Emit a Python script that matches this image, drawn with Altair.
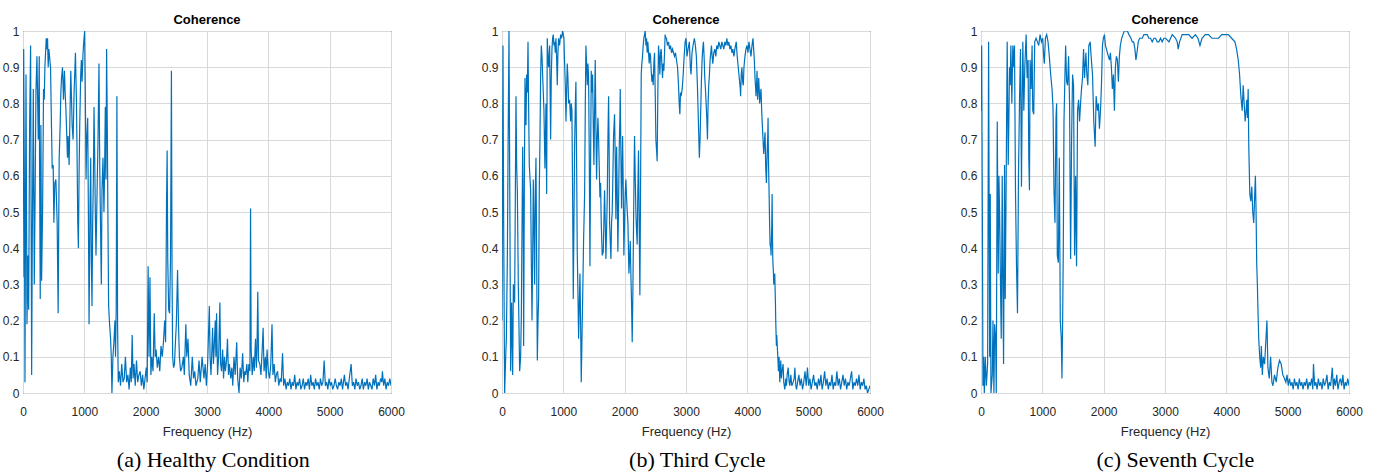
import altair as alt
import pandas as pd

# ---- data (frequency Hz, coherence) ----
healthy = [
    (0, 0.32), (11, 0.95), (22, 0.6), (32, 0.03), (49, 0.88), (65, 0.19), (81, 0.38), (92, 0.23),
    (108, 0.74), (124, 0.96), (141, 0.05), (151, 0.41), (168, 0.84), (184, 0.3), (195, 0.5), (211, 0.83),
    (227, 0.93), (249, 0.7), (265, 0.93), (270, 0.64), (281, 0.26), (292, 0.74), (303, 0.31), (319, 0.5),
    (335, 0.84), (346, 0.81), (357, 0.9), (379, 0.98), (390, 0.95), (400, 0.98), (411, 0.9), (422, 0.95),
    (438, 0.92), (449, 0.9), (465, 0.73), (476, 0.62), (492, 0.63), (503, 0.47), (519, 0.58), (536, 0.59),
    (557, 0.47), (573, 0.22), (590, 0.65), (606, 0.74), (617, 0.83), (628, 0.87), (644, 0.9), (660, 0.81),
    (676, 0.89), (687, 0.83), (698, 0.79), (714, 0.71), (725, 0.65), (736, 0.71), (752, 0.63), (763, 0.74),
    (779, 0.89), (790, 0.82), (801, 0.74), (817, 0.7), (833, 0.83), (855, 0.94), (871, 0.81), (882, 0.65),
    (893, 0.47), (903, 0.4), (914, 0.6), (925, 0.74), (941, 0.88), (952, 0.92), (963, 0.86), (979, 0.94),
    (995, 0.98), (1006, 1.0), (1017, 0.81), (1028, 0.59), (1039, 0.7), (1055, 0.76), (1066, 0.5), (1077, 0.19),
    (1093, 0.52), (1104, 0.65), (1114, 0.37), (1125, 0.24), (1136, 0.47), (1147, 0.59), (1158, 0.79), (1169, 0.65),
    (1179, 0.5), (1190, 0.38), (1206, 0.54), (1223, 0.7), (1239, 0.91), (1250, 0.65), (1261, 0.5), (1277, 0.3),
    (1288, 0.56), (1304, 0.65), (1320, 0.5), (1331, 0.62), (1342, 0.79), (1353, 0.59), (1363, 0.95), (1374, 0.74),
    (1385, 0.47), (1396, 0.24), (1412, 0.19), (1428, 0.15), (1439, 0.1), (1450, 0.0), (1466, 0.1), (1482, 0.14),
    (1499, 0.2), (1509, 0.1), (1520, 0.24), (1531, 0.82), (1542, 0.19), (1553, 0.03),
    (1570, 0.06), (1590, 0.02), (1610, 0.08), (1630, 0.03), (1650, 0.04), (1670, 0.1), (1690, 0.03), (1710, 0.05),
    (1730, 0.01), (1750, 0.07), (1765, 0.03), (1780, 0.16), (1795, 0.04), (1810, 0.08), (1830, 0.02), (1850, 0.09),
    (1870, 0.03), (1890, 0.05), (1910, 0.06), (1930, 0.02), (1950, 0.05), (1970, 0.01), (1990, 0.04), (2010, 0.07),
    (2025, 0.03), (2040, 0.35), (2055, 0.1), (2070, 0.32), (2085, 0.05), (2100, 0.1), (2120, 0.06), (2140, 0.22),
    (2155, 0.1), (2170, 0.12), (2190, 0.07), (2210, 0.1), (2230, 0.06), (2250, 0.13), (2270, 0.1), (2290, 0.14),
    (2310, 0.2), (2325, 0.14), (2340, 0.52), (2350, 0.67), (2360, 0.37), (2375, 0.23), (2390, 0.22), (2405, 0.37),
    (2420, 0.89), (2430, 0.33), (2440, 0.1), (2455, 0.07), (2470, 0.08), (2485, 0.14), (2500, 0.19), (2520, 0.34),
    (2535, 0.19), (2550, 0.1), (2570, 0.06), (2590, 0.07), (2615, 0.1), (2630, 0.05), (2655, 0.19), (2670, 0.1),
    (2690, 0.15), (2710, 0.05), (2735, 0.02), (2760, 0.1), (2780, 0.04), (2800, 0.06), (2820, 0.02), (2850, 0.04),
    (2870, 0.09), (2890, 0.03), (2920, 0.1), (2950, 0.04), (2970, 0.08), (2990, 0.02),
    (3010, 0.08), (3038, 0.24), (3050, 0.1), (3065, 0.05), (3080, 0.12), (3091, 0.18), (3105, 0.08), (3118, 0.13),
    (3135, 0.2), (3145, 0.1), (3156, 0.22), (3165, 0.12), (3172, 0.05), (3190, 0.1), (3210, 0.25), (3222, 0.08),
    (3237, 0.06), (3255, 0.12), (3270, 0.04), (3285, 0.1), (3300, 0.06), (3318, 0.09), (3334, 0.15), (3350, 0.05),
    (3365, 0.08), (3387, 0.04), (3405, 0.07), (3420, 0.02), (3440, 0.1), (3460, 0.05), (3484, 0.14), (3500, 0.04),
    (3522, 0.0), (3540, 0.07), (3560, 0.04), (3581, 0.11), (3600, 0.03), (3615, 0.06), (3630, 0.05), (3650, 0.08),
    (3665, 0.03), (3683, 0.08), (3700, 0.06), (3710, 0.51), (3720, 0.12), (3737, 0.05), (3755, 0.1), (3770, 0.06),
    (3791, 0.15), (3805, 0.07), (3815, 0.12), (3828, 0.28), (3840, 0.09), (3861, 0.08), (3880, 0.05), (3900, 0.12),
    (3915, 0.18), (3930, 0.06), (3952, 0.1), (3965, 0.04), (3979, 0.12), (4000, 0.06), (4020, 0.04), (4040, 0.08),
    (4060, 0.19), (4075, 0.05), (4095, 0.08), (4114, 0.03), (4130, 0.05), (4151, 0.06), (4170, 0.02), (4190, 0.04),
    (4210, 0.03), (4232, 0.11), (4250, 0.02), (4270, 0.04), (4290, 0.01), (4310, 0.03), (4330, 0.02), (4350, 0.04),
    (4370, 0.01), (4390, 0.03), (4410, 0.02), (4430, 0.05), (4450, 0.01), (4470, 0.03), (4490, 0.02), (4510, 0.04),
    (4530, 0.01), (4550, 0.02), (4570, 0.04), (4590, 0.01), (4610, 0.03), (4630, 0.02), (4650, 0.04), (4670, 0.01),
    (4690, 0.05), (4710, 0.02), (4730, 0.03), (4750, 0.01), (4770, 0.04), (4790, 0.02), (4810, 0.03), (4830, 0.01),
    (4850, 0.04), (4870, 0.02), (4890, 0.03), (4910, 0.09), (4930, 0.02), (4950, 0.03), (4970, 0.01), (4990, 0.04),
    (5010, 0.02), (5030, 0.03), (5050, 0.01), (5070, 0.02), (5090, 0.04), (5110, 0.02), (5130, 0.01), (5150, 0.03),
    (5170, 0.02), (5190, 0.04), (5210, 0.01), (5240, 0.05), (5260, 0.02), (5280, 0.03), (5300, 0.01), (5320, 0.04),
    (5350, 0.08), (5370, 0.02), (5390, 0.03), (5410, 0.01), (5430, 0.04), (5450, 0.02), (5470, 0.03), (5490, 0.01),
    (5510, 0.02), (5530, 0.04), (5550, 0.01), (5570, 0.03), (5590, 0.02), (5610, 0.04), (5630, 0.01), (5650, 0.03),
    (5670, 0.02), (5690, 0.01), (5710, 0.04), (5730, 0.02), (5750, 0.05), (5770, 0.01), (5790, 0.03), (5810, 0.02),
    (5830, 0.04), (5850, 0.03), (5860, 0.06), (5880, 0.02), (5900, 0.04), (5920, 0.01), (5940, 0.03), (5960, 0.02),
    (5980, 0.04), (6000, 0.02),
]

third_cycle = [
    (0, 0.2), (16, 0.96), (27, 0.47), (43, 0.0), (60, 0.1), (71, 0.15), (87, 0.37), (100, 0.7),
    (114, 1.0), (130, 0.45), (141, 0.06), (157, 0.25), (174, 0.05), (185, 0.3), (206, 0.25), (228, 0.82),
    (239, 0.63), (250, 0.56), (266, 0.3), (288, 0.06), (304, 0.1), (315, 0.21), (337, 0.68), (347, 0.47),
    (353, 0.13), (364, 0.56), (375, 0.87), (391, 0.74), (402, 0.88), (413, 0.83), (424, 0.97), (434, 0.79),
    (445, 0.63), (467, 0.56), (478, 0.37), (489, 0.2), (500, 0.37), (510, 0.59), (521, 0.47), (532, 0.3),
    (543, 0.56), (554, 0.65), (565, 0.37), (576, 0.09), (586, 0.19), (597, 0.26), (608, 0.56), (619, 0.7),
    (630, 0.88), (641, 0.96), (652, 0.93), (662, 0.88), (673, 0.83), (684, 0.78), (700, 0.62), (717, 0.8),
    (728, 0.55), (738, 0.98), (749, 0.93), (760, 0.9), (777, 0.96), (793, 0.7), (804, 0.88), (815, 0.95),
    (825, 0.98), (836, 0.99), (847, 0.96), (858, 0.97), (869, 0.94), (880, 0.98), (890, 0.93), (901, 0.85),
    (912, 0.94), (923, 0.98), (939, 0.96), (956, 0.99), (972, 0.98), (988, 1.0), (999, 0.99), (1010, 0.98),
    (1021, 0.91), (1032, 0.85), (1043, 0.75), (1053, 0.83), (1064, 0.91), (1075, 0.87), (1086, 0.8), (1102, 0.81),
    (1119, 0.75), (1129, 0.8), (1140, 0.78), (1151, 0.56), (1162, 0.26), (1173, 0.47), (1184, 0.68), (1195, 0.79),
    (1205, 0.86), (1216, 0.65), (1227, 0.39), (1238, 0.28), (1249, 0.15), (1260, 0.24), (1271, 0.33), (1282, 0.19),
    (1292, 0.03), (1303, 0.14), (1314, 0.25), (1330, 0.42), (1347, 0.55), (1358, 0.79), (1368, 0.96), (1379, 0.91),
    (1390, 0.85), (1401, 0.91), (1412, 0.87), (1423, 0.65), (1434, 0.35), (1445, 0.65), (1455, 0.89), (1466, 0.83),
    (1477, 0.88), (1488, 0.74), (1499, 0.63), (1510, 0.79), (1520, 0.92), (1531, 0.74), (1542, 0.59), (1553, 0.7),
    (1564, 0.76), (1575, 0.7), (1586, 0.62), (1597, 0.54), (1607, 0.58), (1618, 0.47), (1634, 0.38), (1651, 0.39),
    (1662, 0.48), (1672, 0.56), (1683, 0.47), (1694, 0.37), (1705, 0.45), (1716, 0.54), (1727, 0.7), (1738, 0.82),
    (1748, 0.65), (1754, 0.47), (1765, 0.42), (1776, 0.37), (1786, 0.47), (1797, 0.5), (1808, 0.6), (1819, 0.71),
    (1835, 0.77), (1846, 0.65), (1857, 0.48), (1868, 0.68), (1879, 0.56), (1889, 0.39), (1900, 0.51), (1911, 0.67),
    (1922, 0.76), (1928, 0.84), (1939, 0.65), (1949, 0.51), (1960, 0.63), (1966, 0.71), (1977, 0.56), (1987, 0.38),
    (1998, 0.47), (2009, 0.55), (2020, 0.59), (2031, 0.54), (2042, 0.5), (2053, 0.47), (2069, 0.33), (2080, 0.37),
    (2091, 0.42), (2101, 0.33), (2112, 0.25), (2123, 0.14), (2134, 0.28), (2145, 0.47), (2155, 0.63), (2161, 0.71),
    (2172, 0.6), (2183, 0.5), (2193, 0.45), (2204, 0.41), (2215, 0.56), (2226, 0.67), (2237, 0.47), (2248, 0.27),
    (2259, 0.56), (2270, 0.88), (2280, 0.91), (2291, 0.93), (2302, 0.96), (2313, 0.98), (2324, 0.99), (2335, 1.0),
    (2346, 0.96), (2357, 0.98), (2367, 0.94), (2378, 0.97), (2389, 0.94), (2400, 0.91), (2411, 0.94), (2422, 0.93),
    (2433, 0.89), (2444, 0.86), (2454, 0.88), (2465, 0.85), (2476, 0.91), (2487, 0.94), (2498, 0.83), (2509, 0.7),
    (2520, 0.67), (2530, 0.64), (2541, 0.83), (2552, 0.96), (2563, 0.93), (2574, 0.88), (2585, 0.94), (2595, 0.95),
    (2606, 0.91), (2617, 0.87), (2628, 0.91), (2639, 0.89), (2650, 0.94), (2660, 0.99), (2671, 0.98), (2682, 0.98),
    (2698, 0.96), (2715, 0.97), (2731, 0.95), (2748, 0.96), (2764, 0.94), (2780, 0.95), (2796, 0.94), (2813, 0.93),
    (2829, 0.94), (2845, 0.92), (2862, 0.9), (2878, 0.85), (2889, 0.8), (2900, 0.77), (2910, 0.83), (2921, 0.82),
    (2938, 0.84), (2954, 0.88), (2970, 0.93), (2986, 0.97),
    (3000, 0.98), (3016, 0.93), (3033, 0.95), (3055, 0.97), (3071, 0.9), (3082, 0.88), (3098, 0.94), (3115, 0.96),
    (3137, 0.98), (3153, 0.96), (3169, 0.93), (3186, 0.85), (3202, 0.75), (3218, 0.65), (3229, 0.7), (3240, 0.78),
    (3251, 0.86), (3262, 0.92), (3273, 0.95), (3284, 0.97), (3295, 0.93), (3306, 0.87), (3317, 0.84), (3328, 0.8),
    (3339, 0.76), (3350, 0.7), (3360, 0.8), (3371, 0.85), (3382, 0.88), (3393, 0.92), (3404, 0.94), (3415, 0.96),
    (3426, 0.93), (3437, 0.91), (3453, 0.94), (3470, 0.95), (3486, 0.93), (3502, 0.96), (3519, 0.95), (3535, 0.97),
    (3551, 0.96), (3568, 0.95), (3584, 0.97), (3601, 0.96), (3617, 0.95), (3633, 0.97), (3650, 0.96), (3666, 0.98),
    (3682, 0.96), (3699, 0.97), (3715, 0.95), (3732, 0.96), (3748, 0.94), (3764, 0.95), (3781, 0.93), (3797, 0.95),
    (3819, 0.97), (3835, 0.93), (3852, 0.9), (3863, 0.88), (3874, 0.86), (3885, 0.84), (3890, 0.82), (3901, 0.88),
    (3912, 0.9), (3923, 0.86), (3934, 0.85), (3945, 0.9), (3961, 0.93), (3977, 0.95), (3994, 0.96), (4010, 0.94),
    (4026, 0.97), (4043, 0.95), (4059, 0.93), (4076, 0.96), (4092, 0.98), (4103, 0.95), (4114, 0.92), (4125, 0.87),
    (4136, 0.84), (4141, 0.82), (4152, 0.86), (4158, 0.89), (4168, 0.81), (4179, 0.84), (4185, 0.87), (4196, 0.83),
    (4201, 0.8), (4212, 0.82), (4223, 0.84), (4234, 0.78), (4245, 0.74), (4256, 0.7), (4267, 0.66), (4278, 0.69),
    (4289, 0.72), (4300, 0.62), (4311, 0.58), (4322, 0.66), (4333, 0.71), (4338, 0.76), (4344, 0.65), (4355, 0.55),
    (4365, 0.45), (4371, 0.41), (4382, 0.4), (4387, 0.38), (4398, 0.46), (4404, 0.55), (4409, 0.45), (4415, 0.37),
    (4426, 0.33), (4431, 0.3), (4442, 0.32), (4447, 0.33), (4458, 0.25), (4463, 0.2), (4474, 0.13), (4480, 0.16),
    (4491, 0.12), (4502, 0.08), (4507, 0.06), (4518, 0.1), (4529, 0.03), (4540, 0.07), (4545, 0.09), (4556, 0.04),
    (4567, 0.06), (4583, 0.08), (4594, 0.03), (4611, 0.01), (4627, 0.04), (4638, 0.02), (4649, 0.05), (4665, 0.07),
    (4682, 0.03), (4693, 0.02), (4709, 0.05), (4725, 0.02), (4747, 0.03), (4764, 0.04), (4775, 0.07), (4791, 0.02),
    (4802, 0.01), (4820, 0.03), (4840, 0.05), (4860, 0.02), (4880, 0.04), (4900, 0.01), (4920, 0.03), (4940, 0.06),
    (4960, 0.02), (4980, 0.07), (5000, 0.02), (5020, 0.04), (5040, 0.01), (5060, 0.03), (5080, 0.05), (5100, 0.02),
    (5120, 0.03), (5140, 0.01), (5160, 0.04), (5180, 0.02), (5200, 0.05), (5220, 0.01), (5240, 0.03), (5260, 0.06),
    (5280, 0.02), (5300, 0.04), (5320, 0.01), (5340, 0.03), (5360, 0.02), (5380, 0.05), (5400, 0.01), (5420, 0.03),
    (5440, 0.02), (5460, 0.06), (5480, 0.02), (5500, 0.04), (5520, 0.01), (5540, 0.03), (5560, 0.05), (5580, 0.02),
    (5600, 0.04), (5620, 0.01), (5640, 0.03), (5660, 0.02), (5680, 0.04), (5700, 0.06), (5720, 0.01), (5740, 0.03),
    (5760, 0.02), (5780, 0.04), (5800, 0.02), (5820, 0.05), (5840, 0.01), (5860, 0.03), (5880, 0.02), (5900, 0.04),
    (5920, 0.01), (5940, 0.02), (5960, 0.0), (5980, 0.01), (6000, 0.02),
]

seventh_cycle = [
    (0, 0.78), (11, 0.96), (22, 0.5), (32, 0.02), (43, 0.1), (54, 0.0), (70, 0.1), (87, 0.02),
    (108, 0.08), (124, 0.97), (135, 0.4), (141, 0.1), (151, 0.55), (162, 0.0), (184, 0.05), (195, 0.2),
    (211, 0.0), (222, 0.19), (238, 0.15), (249, 0.0), (265, 0.75), (281, 0.33), (292, 0.6), (303, 0.5),
    (314, 0.35), (330, 0.15), (346, 0.6), (357, 0.3), (368, 0.08), (384, 0.63), (395, 0.26), (411, 0.6),
    (427, 0.97), (444, 0.63), (454, 0.75), (465, 0.9), (476, 0.85), (487, 0.96), (503, 0.8), (519, 0.96),
    (536, 0.9), (546, 0.96), (563, 0.55), (579, 0.35), (595, 0.22), (611, 0.6), (628, 0.81), (644, 0.95),
    (660, 0.57), (671, 0.8), (682, 0.97), (698, 0.78), (714, 0.9), (736, 0.99), (752, 0.87), (768, 0.92),
    (779, 0.65), (790, 0.56), (801, 0.92), (817, 0.84), (833, 0.96), (844, 0.78), (860, 0.77), (876, 0.97),
    (898, 0.98), (920, 0.97), (941, 0.96), (963, 0.99), (985, 0.97), (1006, 0.98), (1022, 0.93), (1033, 0.91),
    (1050, 0.98), (1071, 0.99), (1093, 0.97), (1114, 0.93), (1136, 0.88), (1158, 0.84), (1174, 0.79), (1190, 0.56),
    (1206, 0.47), (1223, 0.76), (1233, 0.8), (1244, 0.38), (1261, 0.36), (1277, 0.65), (1293, 0.2), (1309, 0.15),
    (1320, 0.04), (1331, 0.2), (1342, 0.4), (1353, 0.75), (1369, 0.88), (1380, 0.96), (1396, 0.86), (1412, 0.85),
    (1428, 0.93), (1444, 0.8), (1461, 0.37), (1477, 0.7), (1493, 0.88), (1509, 0.85), (1526, 0.38), (1542, 0.6),
    (1558, 0.35), (1574, 0.78), (1591, 0.81), (1607, 0.75), (1623, 0.8), (1639, 0.84), (1655, 0.87), (1672, 0.95),
    (1688, 0.87), (1710, 0.94), (1726, 0.88), (1742, 0.85), (1758, 0.96), (1780, 0.97), (1796, 0.93), (1818, 0.88),
    (1839, 0.75), (1861, 0.68), (1877, 0.82), (1899, 0.78), (1915, 0.8), (1931, 0.73), (1948, 0.78), (1964, 0.85),
    (1980, 0.96), (1996, 0.98), (2013, 0.99), (2029, 0.96), (2045, 0.95), (2061, 0.94), (2077, 0.93), (2094, 0.92),
    (2110, 0.94), (2126, 0.9), (2142, 0.84), (2159, 0.88), (2175, 0.78), (2191, 0.9), (2207, 0.93), (2224, 0.92),
    (2240, 0.86), (2256, 0.93), (2272, 0.96), (2294, 0.98), (2315, 0.99), (2337, 1.0), (2359, 1.0), (2386, 1.0),
    (2413, 0.99), (2445, 0.98), (2467, 0.97), (2489, 0.97), (2510, 0.95), (2526, 0.92), (2543, 0.94), (2564, 0.97),
    (2586, 0.98), (2608, 0.98), (2629, 0.98), (2656, 0.99), (2683, 0.99), (2710, 0.99), (2737, 0.98), (2764, 0.98),
    (2792, 0.97), (2819, 0.98), (2846, 0.98), (2873, 0.97), (2900, 0.97), (2927, 0.98), (2954, 0.97), (2981, 0.98),
    (3011, 0.98), (3065, 0.97), (3118, 0.99), (3172, 0.98), (3199, 0.97), (3215, 0.95), (3237, 0.97), (3280, 0.99),
    (3334, 0.99), (3387, 0.99), (3441, 0.98), (3495, 0.99), (3538, 0.98), (3570, 0.96), (3603, 0.98), (3656, 0.99),
    (3710, 0.99), (3764, 0.98), (3818, 0.98), (3872, 0.98), (3925, 0.99), (3979, 0.99), (4033, 0.99), (4087, 0.98),
    (4140, 0.97), (4167, 0.95), (4194, 0.92), (4216, 0.88), (4237, 0.82), (4259, 0.78), (4275, 0.85), (4291, 0.8),
    (4307, 0.75), (4323, 0.78), (4334, 0.81), (4345, 0.76), (4356, 0.84), (4366, 0.68), (4383, 0.55), (4399, 0.53),
    (4415, 0.57), (4431, 0.5), (4447, 0.47), (4463, 0.55), (4474, 0.6), (4485, 0.5), (4495, 0.36), (4506, 0.3),
    (4517, 0.22), (4528, 0.15), (4544, 0.1), (4560, 0.07), (4571, 0.13), (4587, 0.05), (4603, 0.1), (4624, 0.08),
    (4646, 0.15), (4662, 0.2), (4678, 0.07), (4700, 0.04), (4722, 0.1), (4743, 0.03), (4759, 0.02), (4786, 0.05),
    (4813, 0.03), (4840, 0.07), (4867, 0.09), (4894, 0.08), (4921, 0.05), (4948, 0.04),
    (4970, 0.03), (4990, 0.05), (5010, 0.02), (5030, 0.04), (5050, 0.02), (5070, 0.03), (5090, 0.01), (5110, 0.04),
    (5130, 0.02), (5150, 0.03), (5170, 0.01), (5190, 0.04), (5210, 0.02), (5230, 0.03), (5250, 0.01), (5270, 0.03),
    (5290, 0.02), (5310, 0.04), (5330, 0.01), (5350, 0.03), (5370, 0.02), (5390, 0.04), (5410, 0.01), (5421, 0.08),
    (5440, 0.02), (5460, 0.03), (5480, 0.01), (5500, 0.04), (5520, 0.02), (5540, 0.03), (5560, 0.01), (5580, 0.04),
    (5600, 0.02), (5620, 0.03), (5640, 0.05), (5660, 0.01), (5680, 0.03), (5700, 0.02), (5728, 0.07), (5745, 0.01),
    (5760, 0.04), (5780, 0.02), (5800, 0.05), (5820, 0.01), (5840, 0.03), (5860, 0.04), (5880, 0.02), (5900, 0.05),
    (5920, 0.01), (5940, 0.03), (5960, 0.02), (5980, 0.04), (6000, 0.02),
]

captions = ["(a) Healthy Condition", "(b) Third Cycle", "(c) Seventh Cycle"]
caption_dx = [10, 15, 14]
x_ticks = [0, 1000, 2000, 3000, 4000, 5000, 6000]
y_ticks = [0, 0.1, 0.2, 0.3, 0.4, 0.5, 0.6, 0.7, 0.8, 0.9, 1]

LINE = "#0072BD"
AX = "#262626"


def panel(series, caption, dx):
    df = pd.DataFrame(series, columns=["freq", "coh"])
    line = alt.Chart(df).mark_line(color=LINE, strokeWidth=1.2, clip=True).encode(
        x=alt.X("freq:Q", scale=alt.Scale(domain=[0, 6000], nice=False, zero=False),
                axis=alt.Axis(values=x_ticks, format="d", title="Frequency (Hz)",
                              labelPadding=13, titlePadding=8, labelFlush=False)),
        y=alt.Y("coh:Q", scale=alt.Scale(domain=[0, 1], nice=False),
                axis=alt.Axis(values=y_ticks, format="~g", title=None, labelPadding=4,
                              labelFlush=False)),
        order="freq:Q",
    ).properties(
        width=368, height=362,
        title=alt.Title("Coherence", fontSize=13, fontWeight="bold", color="black",
                        font="Liberation Sans", anchor="middle", offset=0, dy=2),
    )
    return alt.VConcatChart(
        vconcat=[line],
        title=alt.Title(caption, orient="bottom", font="Liberation Serif", fontSize=22,
                        fontWeight="normal", color="black", anchor="middle", offset=11, dx=dx),
    )


chart = alt.hconcat(
    *[panel(s, c, d) for s, c, d in zip([healthy, third_cycle, seventh_cycle], captions, caption_dx)],
    spacing=75,
).properties(
    padding={"left": 1, "top": 13, "right": 5, "bottom": 1},
    background="white",
).configure_view(
    stroke=AX, strokeWidth=1,
).configure_axis(
    grid=True, gridColor="#d9d9d9", gridWidth=1, domain=False, ticks=False,
    labelFont="Liberation Sans", labelFontSize=12, labelColor=AX,
    titleFont="Liberation Sans", titleFontSize=13, titleColor=AX, titleFontWeight="normal",
).configure_concat(spacing=75)

chart.save("out.html", embed_options={"renderer": "svg", "actions": False})
